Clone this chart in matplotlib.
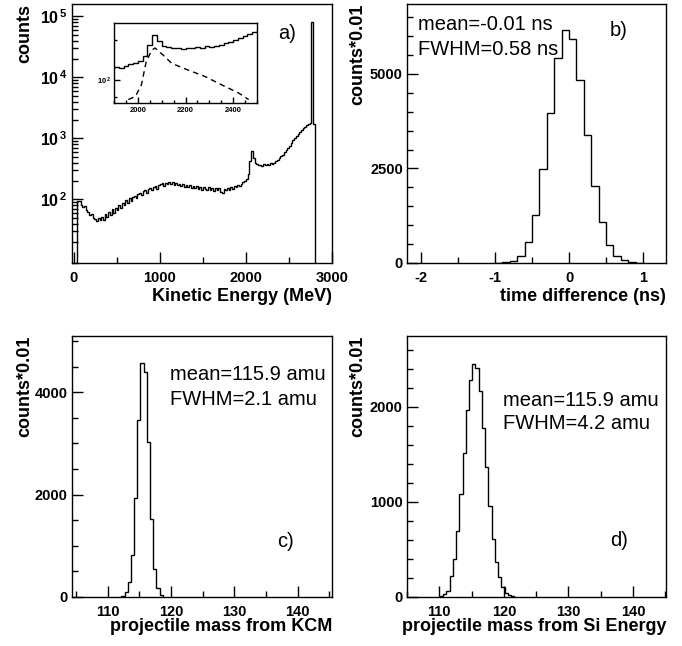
import numpy as np
import matplotlib
matplotlib.use('Agg')
import matplotlib.pyplot as plt
from matplotlib.ticker import MultipleLocator, FixedLocator, FixedFormatter, NullFormatter

plt.rcParams['font.family'] = 'Liberation Sans'
plt.rcParams['font.weight'] = 'bold'
plt.rcParams['axes.unicode_minus'] = False
plt.rcParams['mathtext.fontset'] = 'custom'
plt.rcParams['mathtext.bf'] = 'Liberation Sans:bold'
plt.rcParams['mathtext.rm'] = 'Liberation Sans'

# a) kinetic energy spectrum, 20 MeV bins starting at 40 MeV
ke_start = 40
ke_width = 20
ke_counts = [
    92, 95, 82, 74, 78, 66, 62, 55, 58, 50, 47, 44, 49, 45,
    52, 46, 58, 51, 62, 55, 68, 60, 73, 66, 80, 72, 88, 80, 96, 88, 103, 95, 110, 114,
    104, 122, 128, 116, 137, 140, 128, 150, 152, 140, 162, 165, 150, 174, 176, 184, 168, 188, 176, 190,
    178, 192, 172, 184, 170, 180, 164, 178, 162, 172, 158, 170, 154, 166, 152, 164, 146, 160, 142, 162,
    148, 140, 158, 144, 154, 138, 152, 140, 154, 134, 128, 150, 140, 152, 144, 158, 150, 164, 156, 172,
    166, 178, 192, 200, 215, 260, 420, 610, 480, 400, 375, 362, 368, 355, 372, 360, 378, 370, 392, 386,
    400, 420, 445, 470, 510, 540, 590, 640, 690, 760, 850, 940, 1020, 1110, 1200, 1290, 1390, 1480, 1560, 1640,
    1720, 1800, 82000, 1750,
]
# dashed component in the inset
fit_e = [1960, 1990, 2015, 2035, 2058, 2072, 2107, 2142, 2212, 2282, 2352, 2422, 2465]
fit_counts = [46, 52, 83, 210, 333, 366, 273, 197, 150, 116, 83, 60, 46]

# b) time difference, 0.1 ns bins from -1.0 ns
td_start = -1.0
td_width = 0.1
td_counts = [5, 15, 44, 190, 550, 1275, 2490, 3980, 5410, 6160,
             5915, 4840, 3390, 2025, 1075, 485, 195, 90, 35, 10]

# c) mass from KCM, 0.5 amu bins
kcm_start = 112.2
kcm_width = 0.5
kcm_counts = [13, 98, 294, 830, 1930, 3450, 4570, 4395, 3030, 1517, 556, 177, 33]

# d) mass from Si energy, 0.5 amu bins
si_start = 110.1
si_width = 0.5
si_counts = [7, 28, 63, 218, 400, 695, 1088, 1516, 1966, 2289, 2457, 2415,
             2169, 1783, 1369, 955, 614, 368, 211, 105, 42, 18, 7]

W, H = 682, 646
fig = plt.figure(figsize=(6.82, 6.46), dpi=100)


def box(x0, y0, x1, y1):
    return [x0 / W, 1 - y1 / H, (x1 - x0) / W, (y1 - y0) / H]


def edges(start, width, vals):
    return start + width * np.arange(len(vals) + 1)


def style(ax, size=10.5, major=8, minor=4):
    for s in ax.spines.values():
        s.set_linewidth(1.0)
    ax.tick_params(which='both', direction='in', top=False, right=False, width=1, labelsize=size)
    ax.tick_params(which='major', length=major)
    ax.tick_params(which='minor', length=minor)
    ax.tick_params(axis='x', pad=6)
    ax.tick_params(axis='y', pad=3)


def labels(ax, xlab, ylab, ylab_x, xlab_y):
    ax.text(1.0, xlab_y, xlab, transform=ax.transAxes, ha='right', va='top', fontsize=13)
    ax.text(ylab_x, 1.0, ylab, transform=ax.transAxes, rotation=90, ha='center', va='top', fontsize=13)


# ---- a)
axa = fig.add_axes(box(72, 4, 332, 263))
axa.stairs(ke_counts, edges(ke_start, ke_width, ke_counts), baseline=1, color='black', lw=1.0)
axa.set_yscale('log')
axa.set_xlim(-20, 3000)
axa.set_ylim(9, 1.6e5)
axa.xaxis.set_major_locator(MultipleLocator(1000))
axa.xaxis.set_minor_locator(MultipleLocator(500))
axa.yaxis.set_major_locator(FixedLocator([1e2, 1e3, 1e4, 1e5]))
axa.yaxis.set_major_formatter(FixedFormatter([r'$\mathbf{10^{\,2}}$', r'$\mathbf{10^{\,3}}$',
                                              r'$\mathbf{10^{\,4}}$', r'$\mathbf{10^{\,5}}$']))
log_minor = [k * 10.0 ** e for e in range(0, 6) for k in range(2, 10)]
axa.yaxis.set_minor_locator(FixedLocator(log_minor))
axa.yaxis.set_minor_formatter(NullFormatter())
style(axa)
axa.tick_params(axis='y', labelsize=11.5)
labels(axa, 'Kinetic Energy (MeV)', 'counts', -0.181, -0.097)
axa.text(0.827, 0.888, 'a)', transform=axa.transAxes, ha='center', va='center',
         fontsize=14.5, fontweight='normal')

# inset
axi = fig.add_axes(box(114, 23, 257, 103))
axi.stairs(ke_counts, edges(ke_start, ke_width, ke_counts), baseline=1, color='black', lw=1.0)
axi.plot(fit_e, fit_counts, color='black', lw=1.0, ls=(0, (4, 3)))
axi.set_yscale('log')
axi.set_xlim(1900, 2500)
axi.set_ylim(40, 1000)
axi.xaxis.set_major_locator(MultipleLocator(200))
axi.xaxis.set_minor_locator(MultipleLocator(50))
axi.yaxis.set_major_locator(FixedLocator([100]))
axi.yaxis.set_major_formatter(FixedFormatter([r'$\mathbf{10^{\,2}}$']))
axi.yaxis.set_minor_locator(FixedLocator([50, 500]))
axi.yaxis.set_minor_formatter(NullFormatter())
style(axi, size=5.5, major=4, minor=2)
axi.tick_params(axis='x', pad=3)
axi.tick_params(axis='y', pad=2)

# ---- b)
axb = fig.add_axes(box(407, 4, 666, 263))
axb.stairs(td_counts, edges(td_start, td_width, td_counts), baseline=0, color='black', lw=1.0)
axb.set_xlim(-2.19, 1.31)
axb.set_ylim(0, 6850)
axb.xaxis.set_major_locator(MultipleLocator(1))
axb.xaxis.set_minor_locator(MultipleLocator(0.5))
axb.yaxis.set_major_locator(MultipleLocator(2500))
axb.yaxis.set_minor_locator(MultipleLocator(500))
style(axb)
labels(axb, 'time difference (ns)', 'counts*0.01', -0.189, -0.097)
axb.text(0.042, 0.921, 'mean=-0.01 ns', transform=axb.transAxes, ha='left', va='center',
         fontsize=14.5, fontweight='normal')
axb.text(0.042, 0.824, 'FWHM=0.58 ns', transform=axb.transAxes, ha='left', va='center',
         fontsize=14.5, fontweight='normal')
axb.text(0.819, 0.896, 'b)', transform=axb.transAxes, ha='center', va='center',
         fontsize=14.5, fontweight='normal')

# ---- c)
axc = fig.add_axes(box(72, 336, 332, 597))
axc.stairs(kcm_counts, edges(kcm_start, kcm_width, kcm_counts), baseline=0, color='black', lw=1.0)
axc.set_xlim(104.4, 145.4)
axc.set_ylim(0, 5100)
axc.xaxis.set_major_locator(MultipleLocator(10))
axc.xaxis.set_minor_locator(MultipleLocator(5))
axc.yaxis.set_major_locator(MultipleLocator(2000))
axc.yaxis.set_minor_locator(MultipleLocator(500))
style(axc)
labels(axc, 'projectile mass from KCM', 'counts*0.01', -0.181, -0.08)
axc.text(0.377, 0.851, 'mean=115.9 amu', transform=axc.transAxes, ha='left', va='center',
         fontsize=14.5, fontweight='normal')
axc.text(0.377, 0.755, 'FWHM=2.1 amu', transform=axc.transAxes, ha='left', va='center',
         fontsize=14.5, fontweight='normal')
axc.text(0.823, 0.211, 'c)', transform=axc.transAxes, ha='center', va='center',
         fontsize=14.5, fontweight='normal')

# ---- d)
axd = fig.add_axes(box(407, 336, 666, 597))
axd.stairs(si_counts, edges(si_start, si_width, si_counts), baseline=0, color='black', lw=1.0)
axd.set_xlim(105.0, 145.1)
axd.set_ylim(0, 2747)
axd.xaxis.set_major_locator(MultipleLocator(10))
axd.xaxis.set_minor_locator(MultipleLocator(5))
axd.yaxis.set_major_locator(MultipleLocator(1000))
axd.yaxis.set_minor_locator(MultipleLocator(200))
style(axd)
labels(axd, 'projectile mass from Si Energy', 'counts*0.01', -0.189, -0.08)
axd.text(0.371, 0.751, 'mean=115.9 amu', transform=axd.transAxes, ha='left', va='center',
         fontsize=14.5, fontweight='normal')
axd.text(0.371, 0.663, 'FWHM=4.2 amu', transform=axd.transAxes, ha='left', va='center',
         fontsize=14.5, fontweight='normal')
axd.text(0.819, 0.215, 'd)', transform=axd.transAxes, ha='center', va='center',
         fontsize=14.5, fontweight='normal')

fig.savefig('out.png', dpi=100)
